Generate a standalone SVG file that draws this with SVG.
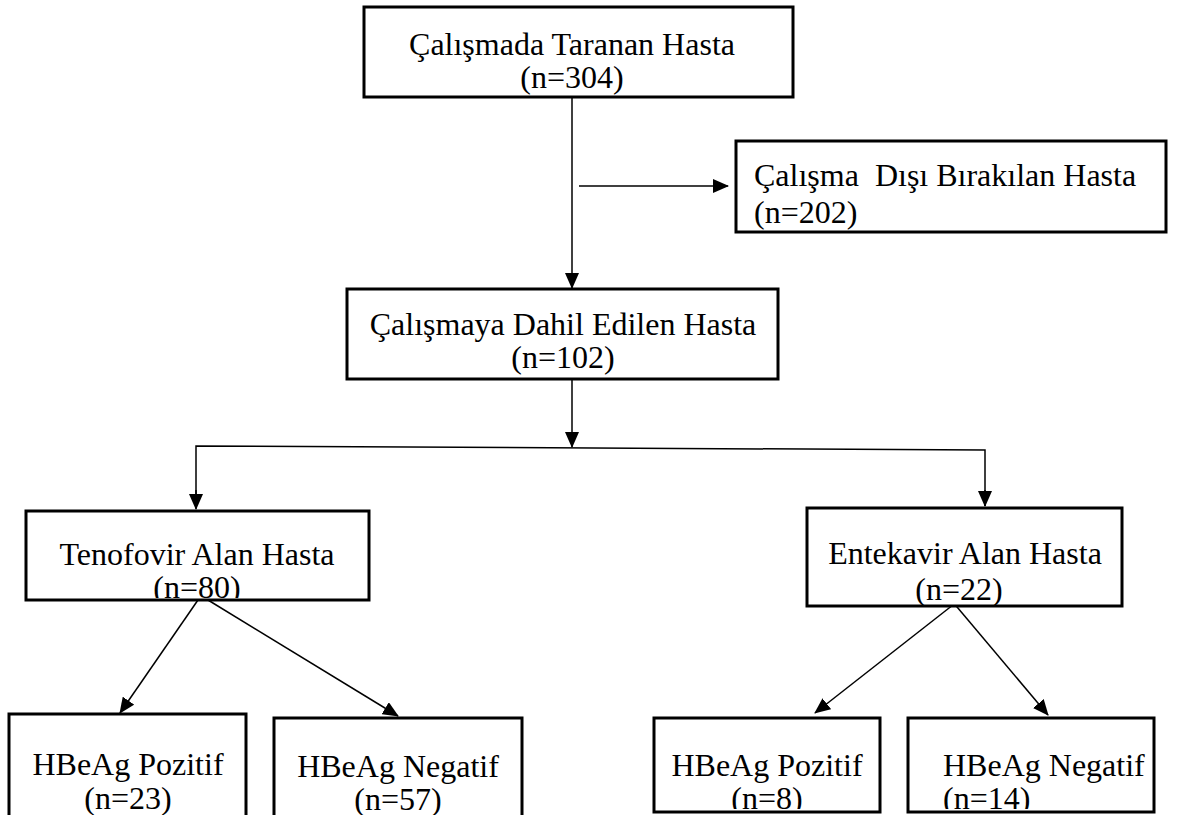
<svg xmlns="http://www.w3.org/2000/svg" width="1185" height="815" viewBox="0 0 1185 815">
<style>
.box{fill:#fff;stroke:#000;stroke-width:3}
.c{text-anchor:middle}
.ln{stroke:#000;stroke-width:1.5;fill:none}
</style>
<defs>
<marker id="ah" markerUnits="userSpaceOnUse" markerWidth="16" markerHeight="14" refX="15" refY="7" orient="auto">
<path d="M0,0 L16,7 L0,14 Z" fill="#000"/>
</marker>
<clipPath id="cT"><rect x="26" y="511" width="343" height="87"/></clipPath>
<clipPath id="cB"><rect x="600" y="700" width="585" height="109"/></clipPath>
</defs>
<rect width="1185" height="815" fill="#fff"/>
<g id="connectors">
<line class="ln" x1="572" y1="97" x2="572" y2="288" marker-end="url(#ah)"/>
<line class="ln" x1="579" y1="186" x2="728" y2="186" marker-end="url(#ah)"/>
<line class="ln" x1="572" y1="379" x2="572" y2="447" marker-end="url(#ah)"/>
<polyline class="ln" points="196,506 196,446 985,450 985,506" />
<line class="ln" x1="196" y1="490" x2="196" y2="509" marker-end="url(#ah)"/>
<line class="ln" x1="985" y1="490" x2="985" y2="506" marker-end="url(#ah)"/>
<line class="ln" x1="198" y1="600" x2="120" y2="713" marker-end="url(#ah)"/>
<line class="ln" x1="208" y1="600" x2="398" y2="716" marker-end="url(#ah)"/>
<line class="ln" x1="958" y1="601" x2="815" y2="713" marker-end="url(#ah)"/>
<line class="ln" x1="952" y1="601" x2="1048" y2="715" marker-end="url(#ah)"/>
</g>
<g font-family="Liberation Serif, 'Times New Roman', serif" font-size="32" fill="#000">
<g id="n1">
<rect class="box" x="364" y="7" width="429" height="90"/>
<text class="c" x="572" y="55">Çalışmada Taranan Hasta</text>
<text class="c" x="572" y="88">(n=304)</text>
</g>
<g id="n2">
<rect class="box" x="736" y="141" width="430" height="91"/>
<text x="754" y="186" xml:space="preserve">Çalışma  Dışı Bırakılan Hasta</text>
<text x="754" y="223">(n=202)</text>
</g>
<g id="n3">
<rect class="box" x="347" y="289" width="431" height="90"/>
<text class="c" x="563" y="335">Çalışmaya Dahil Edilen Hasta</text>
<text class="c" x="563" y="368">(n=102)</text>
</g>
<g id="n4">
<rect class="box" x="26" y="511" width="343" height="89"/>
<text class="c" x="197" y="565">Tenofovir Alan Hasta</text>
<text class="c" x="197" y="598" clip-path="url(#cT)">(n=80)</text>
</g>
<g id="n5">
<rect class="box" x="807" y="508" width="315" height="98"/>
<text class="c" x="965" y="564">Entekavir Alan Hasta</text>
<text class="c" x="959" y="600">(n=22)</text>
</g>
<g id="n6">
<rect class="box" x="9" y="714" width="237" height="110"/>
<text class="c" x="128" y="775">HBeAg Pozitif</text>
<text class="c" x="128" y="809">(n=23)</text>
</g>
<g id="n7">
<rect class="box" x="274" y="718" width="248" height="110"/>
<text class="c" x="398" y="777">HBeAg Negatif</text>
<text class="c" x="398" y="810">(n=57)</text>
</g>
<g id="n8">
<rect class="box" x="654" y="718" width="226" height="94"/>
<text class="c" x="767" y="776">HBeAg Pozitif</text>
<text class="c" x="767" y="809" clip-path="url(#cB)">(n=8)</text>
</g>
<g id="n9">
<rect class="box" x="908" y="718" width="246" height="94"/>
<text x="943" y="776">HBeAg Negatif</text>
<text x="943" y="809" clip-path="url(#cB)">(n=14)</text>
</g>
</g>
</svg>
